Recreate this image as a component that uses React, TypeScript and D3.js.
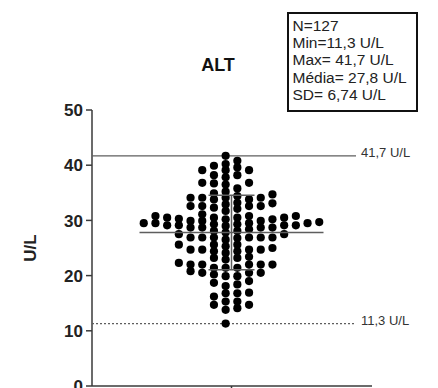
import React, { useMemo } from "react";
import * as d3 from "d3";

// ALT measurements (U/L), one value per subject
const altValues: number[] = [
  30.5, 29.1,
  29.5, 28.1,
  34.9, 30.8, 29.1, 26.9,
  33.8, 32.1, 30.8, 26.9, 22.0, 20.8,
  34.1, 32.6, 30.5, 29.5, 27.5, 24.7, 23.4, 21.4,
  39.1, 37.8, 36.7, 34.7, 33.1, 29.7, 28.7, 27.5, 26.5, 25.6, 24.7, 21.4,
  41.7, 39.6, 38.2, 35.8, 33.2, 30.3, 29.5, 28.4, 24.7, 23.2, 22.0, 20.2, 18.7, 16.9, 15.3,
  40.8, 39.1, 36.5, 34.4, 32.6, 30.5, 29.9, 28.7, 25.0, 20.5, 19.0, 18.1, 16.2, 14.7, 13.8,
  11.3,
  40.2, 36.8, 29.9, 29.0, 26.8, 25.6, 24.4, 22.9, 19.9, 18.4, 16.8, 15.3, 14.1,
  39.1, 36.8, 34.1, 32.6, 30.8, 29.9, 28.7, 26.9, 25.6, 24.4, 23.2, 22.0, 19.9, 16.8, 14.7,
  39.9, 38.2, 33.8, 32.6, 30.2, 29.3, 26.9, 24.7, 22.3, 21.4,
  34.1, 32.9, 31.7, 30.5, 29.3, 28.1, 26.9, 25.3, 24.1, 22.0, 20.5,
  35.2, 34.1, 32.3, 31.1, 29.1, 26.9, 22.0, 20.5,
  29.1, 27.8,
  30.2, 28.7,
  29.5,
];

const yTicks: number[] = [0, 10, 20, 30, 40, 50];
const statLines: string[] = ["N=127", "Min=11,3 U/L", "Max= 41,7 U/L", "Média= 27,8 U/L", "SD= 6,74 U/L"];
const minValue = 11.3;
const maxValue = 41.7;
const meanValue = 27.8;
const sdValue = 6.74;
const minLabel = "11,3 U/L";
const maxLabel = "41,7 U/L";
const title = "ALT";
const yTitle = "U/L";

const FONT = "'Liberation Sans', Arial, Helvetica, sans-serif";

export default function App() {
  const W = 438;
  const H = 388;
  const axisX = 92;
  const cx = 231.5;
  const laneW = 11.7;
  const gap = 5.8;
  const r = 4.1;

  const y = d3.scaleLinear().domain([0, 50]).range([386, 110]);

  // lane-based scatter: each dot goes into the nearest free lane around the centre
  const dots = useMemo(() => {
    const sorted = [...altValues].sort((a, b) => a - b);
    const lastY = new Map<number, number>();
    return sorted.map((v) => {
      const py = y(v);
      for (let k = 0; ; k++) {
        const lane = k % 2 === 0 ? -(Math.floor(k / 2) + 0.5) : Math.floor(k / 2) + 0.5;
        const prev = lastY.get(lane);
        if (prev === undefined || prev - py >= gap) {
          lastY.set(lane, py);
          return { v, x: cx + lane * laneW, y: py };
        }
      }
    });
  }, []);

  const grey = "#5e5e5e";
  const axisColor = "#3a3a3a";

  return (
    <svg
      width={W}
      height={H}
      style={{ position: "absolute", left: 0, top: 0, background: "#fff" }}
      fontFamily={FONT}
    >
      {/* legend box with summary statistics */}
      <rect x={288} y={13} width={129} height={98} fill="#fff" stroke="#111" strokeWidth={2} />
      {statLines.map((s, i) => (
        <text key={s} x={292.5} y={30.5 + i * 17.4} fontSize={15.5} fill="#222">
          {s}
        </text>
      ))}

      {/* title */}
      <text x={218} y={71} fontSize={18} fontWeight="bold" textAnchor="middle" fill="#111">
        {title}
      </text>

      {/* y axis */}
      <line x1={axisX} x2={axisX} y1={y(50)} y2={y(0)} stroke={axisColor} strokeWidth={1.5} />
      {yTicks.map((t) => (
        <g key={t}>
          <line x1={axisX - 6} x2={axisX} y1={y(t)} y2={y(t)} stroke={axisColor} strokeWidth={1.5} />
          <text
            x={axisX - 9}
            y={y(t)}
            dy="0.36em"
            textAnchor="end"
            fontSize={17}
            fontWeight="bold"
            fill="#222"
          >
            {t}
          </text>
        </g>
      ))}
      <text
        transform={`translate(36,${(y(20) + y(30)) / 2}) rotate(-90)`}
        textAnchor="middle"
        fontSize={17}
        fontWeight="bold"
        fill="#222"
      >
        {yTitle}
      </text>

      {/* x axis */}
      <line x1={axisX} x2={372} y1={y(0)} y2={y(0)} stroke={axisColor} strokeWidth={1.5} />
      <line x1={cx} x2={cx} y1={y(0)} y2={y(0) + 6} stroke={axisColor} strokeWidth={1.5} />

      {/* max and min reference lines */}
      <line x1={axisX} x2={356} y1={y(maxValue)} y2={y(maxValue)} stroke={grey} strokeWidth={1.2} />
      <text x={361} y={y(maxValue)} dy="0.1em" fontSize={13} fill="#333">
        {maxLabel}
      </text>
      <line
        x1={axisX}
        x2={356}
        y1={y(minValue)}
        y2={y(minValue)}
        stroke={grey}
        strokeWidth={1.2}
        strokeDasharray="2,2"
      />
      <text x={361} y={y(minValue)} dy="0.1em" fontSize={13} fill="#333">
        {minLabel}
      </text>

      {/* dots */}
      {dots.map((d, i) => (
        <circle key={i} cx={d.x} cy={d.y} r={r} fill="#000" />
      ))}

      {/* mean with SD */}
      <line x1={cx - 92} x2={cx + 92} y1={y(meanValue)} y2={y(meanValue)} stroke={grey} strokeWidth={1.5} />
      <line x1={cx} x2={cx} y1={y(meanValue + sdValue)} y2={y(meanValue - sdValue)} stroke={grey} strokeWidth={1.5} />
      <line
        x1={cx - 23}
        x2={cx + 23}
        y1={y(meanValue + sdValue)}
        y2={y(meanValue + sdValue)}
        stroke={grey}
        strokeWidth={1.5}
      />
      <line
        x1={cx - 23}
        x2={cx + 23}
        y1={y(meanValue - sdValue)}
        y2={y(meanValue - sdValue)}
        stroke={grey}
        strokeWidth={1.5}
      />
    </svg>
  );
}
